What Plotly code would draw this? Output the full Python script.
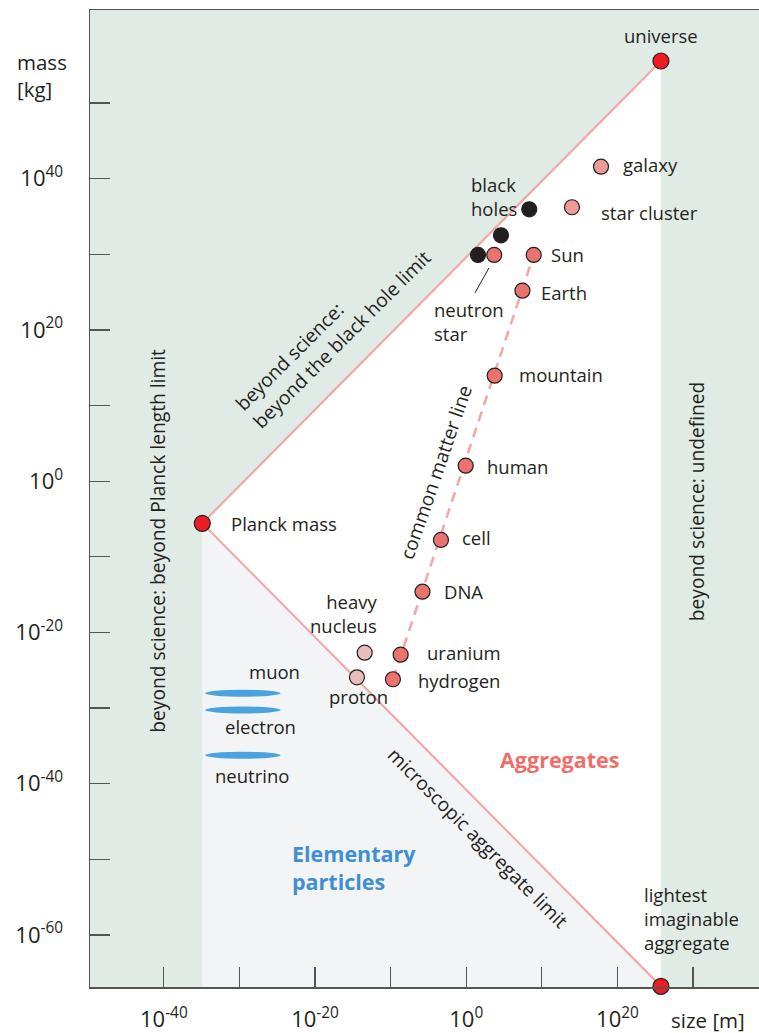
import plotly.graph_objects as go

# ---------------- data (log10 size [m], log10 mass [kg]) ----------------
limit_names = ["Planck mass", "universe", "lightest imaginable aggregate"]
limit_log_size = [-34.92, 25.75, 25.75]
limit_log_mass = [-5.57, 55.56, -66.8]

matter_names = ["Sun", "Earth", "mountain", "human", "cell", "DNA", "uranium", "hydrogen", "neutron star"]
matter_log_size = [8.92, 7.43, 3.76, -0.08, -3.35, -5.79, -8.68, -9.70, 3.70]
matter_log_mass = [29.91, 25.19, 13.95, 2.05, -7.77, -14.61, -22.94, -26.19, 29.91]

cluster_names = ["galaxy", "star cluster"]
cluster_log_size = [17.82, 13.98]
cluster_log_mass = [41.58, 36.22]

nuclear_names = ["heavy nucleus", "proton"]
nuclear_log_size = [-13.44, -14.46]
nuclear_log_mass = [-22.68, -25.93]

blackhole_names = ["black hole", "black hole", "black hole"]
blackhole_log_size = [8.33, 4.59, 1.55]
blackhole_log_mass = [35.95, 32.51, 29.91]

particle_names = ["muon", "electron", "neutrino"]
particle_log_mass = [-28.04, -30.25, -36.24]
particle_log_size_span = [-34.56, -24.55]

x_tick_exps = [-40, -20, 0, 20]
x_tick_labels = ["10<sup>-40</sup>", "10<sup>-20</sup>", "10<sup>0</sup>", "10<sup>20</sup>"]
x_minor_exps = [-30, -10, 10, 30]
y_tick_exps = [-60, -40, -20, 0, 20, 40]
y_tick_labels = ["10<sup>-60</sup>", "10<sup>-40</sup>", "10<sup>-20</sup>",
                 "10<sup>0</sup>", "10<sup>20</sup>", "10<sup>40</sup>"]
y_minor_exps = [-50, -30, -10, 10, 30, 50]

X_RANGE = [-49.77, 38.72]
Y_RANGE = [-66.88, 62.3]

# ---------------- styles ----------------
FONT = "Open Sans"
TXT = "#231f20"
GREEN = "#e1ebe6"
GREY = "#f3f4f6"
LIMIT_LINE = "#f0aaa6"
RED = "#ee1c25"
MATTER = "#e8736f"
CLUSTER = "#ee9b98"
NUCLEAR = "#e8bdbd"
BLACK = "#231f20"
BLUE = "#4aa3df"
FS = 18.5
FS_ROT = 19.2
FS_BIG = 21.5
TICKC = "#555"

fig = go.Figure()

planck = (limit_log_size[0], limit_log_mass[0])
universe = (limit_log_size[1], limit_log_mass[1])
lightest = (limit_log_size[2], limit_log_mass[2])

# white triangle: aggregates region
fig.add_trace(go.Scatter(
    x=[planck[0], universe[0], lightest[0], lightest[0], planck[0]],
    y=[planck[1], universe[1], lightest[1], Y_RANGE[0], planck[1]],
    fill="toself", fillcolor="white", line=dict(width=0), mode="lines", hoverinfo="skip"))
# grey triangle: elementary particles region
fig.add_trace(go.Scatter(
    x=[planck[0], lightest[0], lightest[0], planck[0], planck[0]],
    y=[planck[1], lightest[1], Y_RANGE[0], Y_RANGE[0], planck[1]],
    fill="toself", fillcolor=GREY, line=dict(width=0), mode="lines", hoverinfo="skip"))

# limit lines
fig.add_trace(go.Scatter(x=[planck[0], universe[0]], y=[planck[1], universe[1]],
                         mode="lines", line=dict(color=LIMIT_LINE, width=2.2), hoverinfo="skip"))
fig.add_trace(go.Scatter(x=[planck[0], lightest[0]], y=[planck[1], lightest[1]],
                         mode="lines", line=dict(color=LIMIT_LINE, width=2.2), hoverinfo="skip"))
# common matter line (hydrogen -> Sun)
i_h = matter_names.index("hydrogen")
i_s = matter_names.index("Sun")
fig.add_trace(go.Scatter(x=[matter_log_size[i_h], matter_log_size[i_s]],
                         y=[matter_log_mass[i_h], matter_log_mass[i_s]],
                         mode="lines", line=dict(color=LIMIT_LINE, width=2.6, dash="10px,7px"),
                         hoverinfo="skip"))

mk_line = dict(color="#231f20", width=1.2)
MS = 15
fig.add_trace(go.Scatter(x=blackhole_log_size, y=blackhole_log_mass, mode="markers",
                         marker=dict(size=MS, color=BLACK, line=mk_line), name="black holes"))
fig.add_trace(go.Scatter(x=matter_log_size, y=matter_log_mass, mode="markers",
                         marker=dict(size=MS, color=MATTER, line=mk_line), name="common matter"))
fig.add_trace(go.Scatter(x=cluster_log_size, y=cluster_log_mass, mode="markers",
                         marker=dict(size=MS, color=CLUSTER, line=mk_line), name="clusters"))
fig.add_trace(go.Scatter(x=nuclear_log_size, y=nuclear_log_mass, mode="markers",
                         marker=dict(size=MS, color=NUCLEAR, line=mk_line), name="nuclear"))
fig.add_trace(go.Scatter(x=limit_log_size, y=limit_log_mass, mode="markers", cliponaxis=False,
                         marker=dict(size=MS + 1, color=RED, line=mk_line), name="limits"))

# elementary particles as flat ellipses
for m in particle_log_mass:
    fig.add_shape(type="circle", xref="x", yref="y",
                  x0=particle_log_size_span[0], x1=particle_log_size_span[1],
                  y0=m - 0.46, y1=m + 0.46, fillcolor=BLUE, line=dict(width=0), layer="above")

# leader line for neutron star
i_ns = matter_names.index("neutron star")
nsx, nsy = matter_log_size[i_ns], matter_log_mass[i_ns]
fig.add_shape(type="line", xref="x", yref="y", x0=nsx - 2.55, y0=nsy - 5.02,
              x1=nsx - 0.70, y1=nsy - 1.72, line=dict(color=TXT, width=1), layer="above")

annotations = []


def lab(x, y, text, dx, dy, xanchor="left", align="left", size=FS, color=TXT, bold=False, angle=0):
    t = f"<b>{text}</b>" if bold else text
    annotations.append(dict(x=x, y=y, xref="x", yref="y", text=t, showarrow=False,
                            xanchor=xanchor, yanchor="middle", align=align, xshift=dx, yshift=dy,
                            textangle=angle, font=dict(family=FONT, size=size, color=color)))


def mpos(name):
    i = matter_names.index(name)
    return matter_log_size[i], matter_log_mass[i]


lab(*universe, "universe", 0, 25, xanchor="center")
lab(*planck, "Planck mass", 27, 0)
lab(*lightest, "lightest<br>imaginable<br>aggregate", -19, 68)
lab(cluster_log_size[0], cluster_log_mass[0], "galaxy", 20, 2)
lab(cluster_log_size[1], cluster_log_mass[1], "star cluster", 27, -5)
lab(blackhole_log_size[0], blackhole_log_mass[0], "black<br>holes", -60, 13)
lab(*mpos("Sun"), "Sun", 15, 0)
lab(*mpos("Earth"), "Earth", 17, -2)
lab(*mpos("neutron star"), "neutron<br>star", -62, -67)
lab(*mpos("mountain"), "mountain", 22, 1)
lab(*mpos("human"), "human", 19, -1)
lab(*mpos("cell"), "cell", 19, 2)
lab(*mpos("DNA"), "DNA", 19, 0)
lab(*mpos("uranium"), "uranium", 24, 2)
lab(*mpos("hydrogen"), "hydrogen", 23, -1)
lab(nuclear_log_size[0], nuclear_log_mass[0], "heavy<br>nucleus", 15, 39, xanchor="right", align="right")
lab(nuclear_log_size[1], nuclear_log_mass[1], "proton", 2, -19, xanchor="center", align="center")
pcx = (particle_log_size_span[0] + particle_log_size_span[1]) / 2
lab(pcx, particle_log_mass[0], "muon", 32, 22, xanchor="center")
lab(pcx, particle_log_mass[1], "electron", 18, -17, xanchor="center")
lab(pcx, particle_log_mass[2], "neutrino", 9, -20, xanchor="center")

# region texts
lab(-40.78, -7.88, "beyond science: beyond Planck length limit", 0, 0, xanchor="center", angle=-90, size=FS_ROT)
lab(30.48, -2.68, "beyond science: undefined", 0, 0, xanchor="center", angle=-90, size=FS_ROT)
lab(-17.63, 19.99, "beyond science:<br>beyond the black hole limit", 0, 0, xanchor="center", angle=-45, size=FS_ROT)
lab(-4.03, 1.26, "common matter line", 0, 0, xanchor="center", angle=-71, size=FS_ROT)
lab(1.59, -47.08, "microscopic aggregate limit", 0, 0, xanchor="center", angle=45, size=FS_ROT)
lab(12.39, -36.86, "Aggregates", 0, 0, xanchor="center", size=FS_BIG, color="#ef6f68", bold=True)
lab(-23.32, -51.14, "Elementary<br>particles", 0, 0, xanchor="left", size=FS_BIG, color="#3f8fd2", bold=True)

# axis titles
annotations.append(dict(xref="paper", yref="paper", x=-0.112, y=1.0, xanchor="left", yanchor="top",
                        yshift=-36, text="mass<br>[kg]", align="left", showarrow=False,
                        font=dict(family=FONT, size=20.5, color=TXT)))
annotations.append(dict(xref="paper", yref="paper", x=1.0, y=0, xanchor="right", yanchor="middle",
                        yshift=-33, xshift=-12, text="size [m]", showarrow=False,
                        font=dict(family=FONT, size=20.5, color=TXT)))

fig.update_layout(
    width=759, height=1033,
    margin=dict(l=90, r=0, t=10, b=46),
    paper_bgcolor="white", plot_bgcolor=GREEN,
    showlegend=False, hovermode=False,
    annotations=annotations,
    font=dict(family=FONT, size=FS, color=TXT),
)
tick_style = dict(ticks="inside", ticklen=20, tickwidth=1.2, tickcolor=TICKC)
fig.update_xaxes(range=X_RANGE, tickmode="array", tickvals=x_tick_exps, ticktext=x_tick_labels,
                 **tick_style, automargin=False,
                 minor=dict(tickmode="array", tickvals=x_minor_exps, showgrid=False, **tick_style),
                 showgrid=False, zeroline=False, showline=True, linecolor="#555", linewidth=1.5,
                 mirror=True, ticklabelstandoff=12, tickfont=dict(family=FONT, size=22, color=TXT))
fig.update_yaxes(range=Y_RANGE, tickmode="array", tickvals=y_tick_exps, ticktext=y_tick_labels,
                 **tick_style, automargin=False,
                 minor=dict(tickmode="array", tickvals=y_minor_exps, showgrid=False, **tick_style),
                 showgrid=False, zeroline=False, showline=True, linecolor="#555", linewidth=1.5,
                 ticklabelstandoff=21, tickfont=dict(family=FONT, size=22, color=TXT))

# remove the default 8px page margin and scrollbars so the figure fills the window
page_fix = ("document.documentElement.style.overflow='hidden';"
            "document.body.style.margin='0';document.body.style.overflow='hidden';")
fig.write_html("out.html", post_script=page_fix,
               config={"displayModeBar": False, "staticPlot": True})
